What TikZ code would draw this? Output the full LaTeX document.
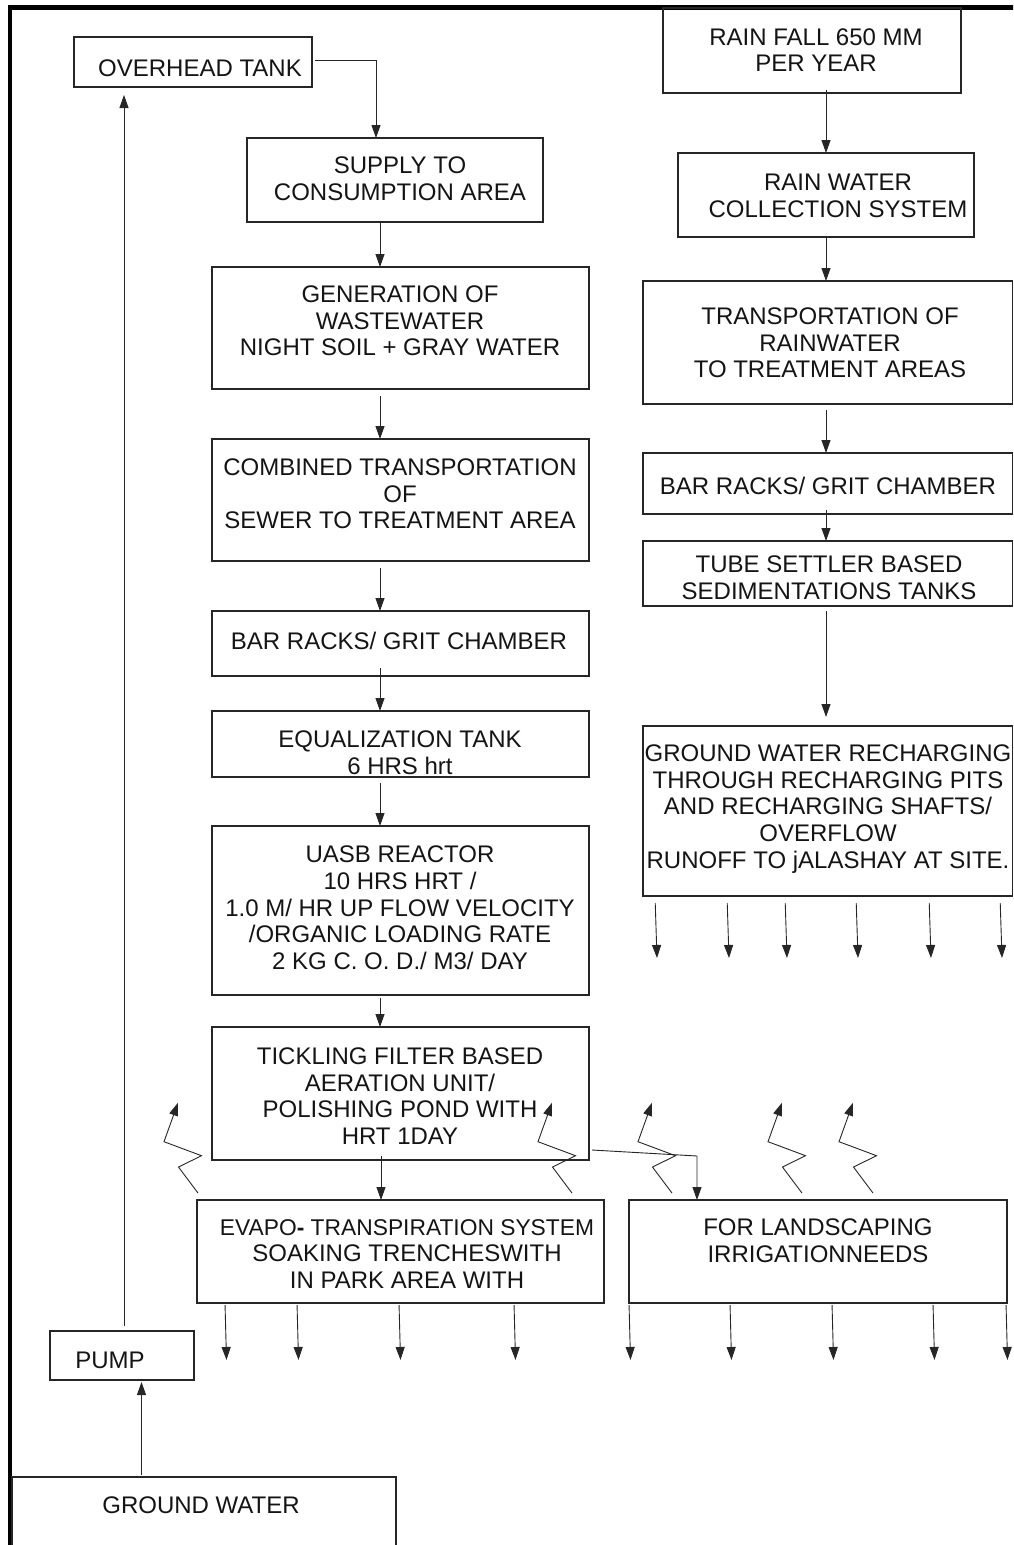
\documentclass[tikz,border=0pt]{standalone}
\usepackage{fontspec}
\setmainfont{Liberation Sans}
\usetikzlibrary{arrows.meta,calc}
\newcommand\mkbox[5]{\node[box,minimum width={#4-#2},minimum height={#5-#3}] (#1) at ({(#2+#4)/2},{(#3+#5)/2}) {};}
\begin{document}
\begin{tikzpicture}[x=1pt,y=-1pt,
  box/.style={draw=black!85,line width=1.1pt,inner sep=0pt,outer sep=0pt},
  lbl/.style={align=center,inner sep=0pt,font=\fontsize{24}{26.7}\selectfont,text=black!92},
  arr/.style={draw=black!85,line width=0.9pt,-{Triangle[length=13pt,width=9pt]}}]
\useasboundingbox (0,0) rectangle (1013,1545);
\clip (0,0) rectangle (1013,1545);
% frame
\draw[line width=4.5pt,black] (10,1560) -- (10,7.5) -- (1030,7.5);
% boxes
\mkbox{ovh}{74}{37}{312}{87}
\mkbox{sup}{247}{138}{543}{222}
\mkbox{rain}{663}{8}{961}{93}
\mkbox{coll}{678}{153}{974}{237}
\mkbox{gen}{212}{267}{589}{389}
\mkbox{trans}{643}{281}{1012.5}{404}
\mkbox{comb}{212}{439}{589}{561}
\mkbox{barR}{643}{453}{1012.5}{514}
\mkbox{tube}{643}{541}{1012.5}{606}
\mkbox{barL}{212}{611}{589}{676}
\mkbox{eq}{212}{711}{589}{777}
\mkbox{rech}{643}{726}{1012.5}{896}
\mkbox{uasb}{212}{826}{589}{995}
\mkbox{tick}{212}{1027}{589}{1160}
\mkbox{evapo}{197}{1200}{604}{1303}
\mkbox{land}{629}{1200}{1007}{1303}
\mkbox{pump}{50}{1331}{194}{1380}
\mkbox{gw}{12}{1477}{396}{1570}
% labels
\node[lbl] (t-ovh) at (200,68) {OVERHEAD TANK};
\node[lbl] (t-sup) at (400,179) {SUPPLY TO\\CONSUMPTION AREA};
\node[lbl] (t-rain) at (816,50) {RAIN FALL 650 MM\\PER YEAR};
\node[lbl] (t-coll) at (838,196) {RAIN WATER\\COLLECTION SYSTEM};
\node[lbl] (t-gen) at (400,321) {GENERATION OF\\WASTEWATER\\NIGHT SOIL + GRAY WATER};
\node[lbl] (t-trans) at (830,343) {TRANSPORTATION OF\\RAINWATER\\TO TREATMENT AREAS};
\node[lbl] (t-comb) at (400,494) {COMBINED TRANSPORTATION\\OF\\SEWER TO TREATMENT AREA};
\node[lbl] (t-barR) at (828,486) {BAR RACKS/ GRIT CHAMBER};
\node[lbl] (t-tube) at (829,578) {TUBE SETTLER BASED\\SEDIMENTATIONS TANKS};
\node[lbl] (t-barL) at (399,641) {BAR RACKS/ GRIT CHAMBER};
\node[lbl] (t-eq) at (400,753) {EQUALIZATION TANK\\6 HRS hrt};
\node[lbl] (t-rech) at (828,809) {GROUND WATER RECHARGING\\THROUGH RECHARGING PITS\\AND RECHARGING SHAFTS/\\OVERFLOW\\RUNOFF TO jALASHAY AT SITE.};
\node[lbl] (t-uasb) at (400,908) {UASB REACTOR\\10 HRS HRT /\\1.0 M/ HR UP FLOW VELOCITY\\/ORGANIC LOADING RATE\\2 KG C. O. D./ M3/ DAY};
\node[lbl] (t-tick) at (400,1096) {TICKLING FILTER BASED\\AERATION UNIT/\\POLISHING POND WITH\\HRT 1DAY};
\node[lbl] (t-evapo) at (407,1254) {{\fontsize{22.8}{26.7}\selectfont EVAPO{\bfseries -} TRANSPIRATION SYSTEM}\\SOAKING TRENCHESWITH\\IN PARK AREA WITH};
\node[lbl] (t-land) at (818,1241) {FOR LANDSCAPING\\IRRIGATIONNEEDS};
\node[lbl] (t-pump) at (110,1360) {PUMP};
\node[lbl] (t-gw) at (201,1505) {GROUND WATER};
% helper x positions
\coordinate (lc) at (380,0);
\coordinate (lc2) at (381,0);
\coordinate (rc) at (826,0);
\coordinate (xo) at (376,0);
\coordinate (xp) at (124,0);
\coordinate (xg) at (141.5,0);
\coordinate (lk) at (697,0);
% left column connectors
\draw[arr] ([xshift=3pt,yshift=2pt]ovh.east) -| (sup.north -| xo);
\draw[arr] (sup.south -| lc) -- (gen.north -| lc);
\draw[arr,shorten <=7pt] (gen.south -| lc) -- (comb.north -| lc);
\draw[arr,shorten <=7pt] (comb.south -| lc) -- (barL.north -| lc);
\draw[arr,shorten <=-8pt] (barL.south -| lc) -- (eq.north -| lc);
\draw[arr,shorten <=6pt] (eq.south -| lc) -- (uasb.north -| lc);
\draw[arr,shorten <=3pt] (uasb.south -| lc) -- (tick.north -| lc);
\draw[arr,shorten <=-4pt] (tick.south -| lc2) -- (evapo.north -| lc2);
\draw[arr] ([xshift=3pt,yshift=10pt]tick.south east) -- ([yshift=44pt]land.north -| lk) -- (land.north -| lk);
\draw[arr,shorten <=5pt,shorten >=8pt] (pump.north -| xp) -- (ovh.south -| xp);
\draw[arr,shorten <=2pt,shorten >=2pt] (gw.north -| xg) -- (pump.south -| xg);
% right column connectors
\draw[arr,shorten <=-3pt] (rain.south -| rc) -- (coll.north -| rc);
\draw[arr] (coll.south -| rc) -- (trans.north -| rc);
\draw[arr,shorten <=6pt] (trans.south -| rc) -- (barR.north -| rc);
\draw[arr,shorten <=-4pt] (barR.south -| rc) -- (tube.north -| rc);
\draw[arr,shorten <=5pt,shorten >=9pt] (tube.south -| rc) -- (rech.north -| rc);
% percolation arrows
\foreach \a/\i in {655/1,727/2,785/3,856/4,929/5,1000/6}{
  \coordinate (ra\i) at (\a,0);
  \coordinate (rb\i) at (\a+2,958);
  \draw[arr,shorten <=7pt] (rech.south -| ra\i) -- (rb\i);
}
\foreach \a/\i/\n in {225/1/evapo,297/2/evapo,399/3/evapo,514/4/evapo,629/5/land,730/6/land,832/7/land,933/8/land,1006/9/land}{
  \coordinate (ea\i) at (\a,0);
  \coordinate (eb\i) at (\a+1.5,1360);
  \draw[arr,shorten <=2pt] (\n.south -| ea\i) -- (eb\i);
}
% evaporation zigzags
\foreach \b/\i/\n in {198/1/evapo,572/2/evapo,672/3/land,802/4/land,873/5/land}{
  \coordinate (zb\i) at (\b,0);
  \draw[arr] ([yshift=7pt]\n.north -| zb\i) -- ++(-19.5,-26) -- ++(23,-11.3) -- ++(-37.5,-14) -- ++(14,-39);
}
\end{tikzpicture}
\end{document}
